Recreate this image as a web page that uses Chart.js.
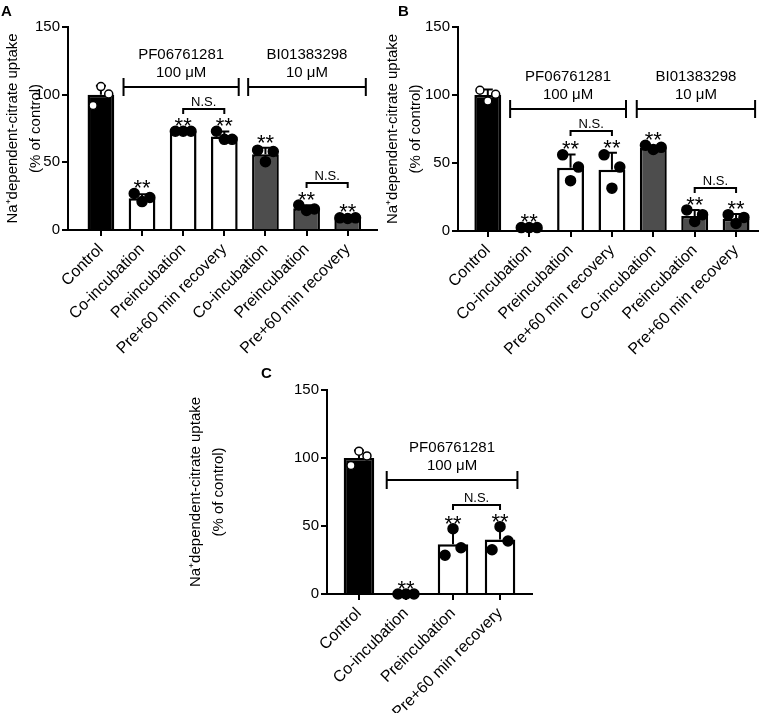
<!DOCTYPE html>
<html>
<head>
<meta charset="utf-8">
<script src="https://cdn.jsdelivr.net/npm/chart.js@4/dist/chart.umd.min.js"></script>
<style>
  body { margin: 0; background: #fff; font-family: "Liberation Sans", Arial, sans-serif; }
  .page { position: relative; width: 767px; height: 713px; overflow: hidden; }
  .panel { position: absolute; }
  .tag { position: absolute; font-weight: bold; font-size: 15px; line-height: 17px; }
</style>
</head>
<body>
<div class="page">
  <canvas class="panel" id="chartA" width="383" height="360" style="left:0;top:0"></canvas>
  <canvas class="panel" id="chartB" width="387" height="360" style="left:380px;top:0"></canvas>
  <canvas class="panel" id="chartC" width="360" height="350" style="left:183px;top:363px"></canvas>
  <div class="tag" style="left:1px;top:2px">A</div>
  <div class="tag" style="left:398px;top:2px">B</div>
  <div class="tag" style="left:261px;top:364px">C</div>
</div>
<script>
Chart.defaults.font.family = '"Liberation Sans", Arial, sans-serif';
Chart.defaults.font.size = 15;
Chart.defaults.color = '#000';

// categories
const labelsAB = ['Control', 'Co-incubation', 'Preincubation', 'Pre+60 min recovery',
                  'Co-incubation', 'Preincubation', 'Pre+60 min recovery'];
const labelsC = ['Control', 'Co-incubation', 'Preincubation', 'Pre+60 min recovery'];
const yTicks = [0, 50, 100, 150];
const yTitle = ['Na\u207Adependent-citrate uptake', '(% of control)'];
const groupPF = ['PF06761281', '100 \u03BCM'];
const groupBI = ['BI01383298', '10 \u03BCM'];

// panel A
const meanA = [100, 23.5, 73, 69, 56, 16, 8.8];
const sdA = [6.5, 3, 0.5, 3.8, 4.8, 2.2, 0.5];
const dotsA = [[92, 106, 100.5], [27, 21, 24], [73, 73, 73], [73, 67, 67],
               [59, 50.5, 58], [18.5, 14.5, 15.5], [9, 8.5, 9]];

// panel B
const meanB = [100, 2.5, 46.5, 45, 61, 11, 9];
const sdB = [4, 0.5, 9.8, 12.5, 1.5, 4.5, 3.5];
const dotsB = [[103.5, 95.5, 100.5], [2.5, 2.5, 2.5], [56, 37, 47], [56, 31.5, 47],
               [63, 60, 61.5], [15.5, 7, 12], [12, 5.5, 10]];

// panel C
const meanC = [100, 0, 36.5, 40];
const sdC = [5.5, 0, 10, 8.6];
const dotsC = [[94.5, 105, 101.5], [0, 0, 0], [28.5, 48, 34], [32.5, 49.5, 39]];

const nsAB = [[2, 3], [5, 6]];
const nsC = [[2, 3]];

const fillAB = ['#000', '#fff', '#fff', '#fff', '#4d4d4d', '#4d4d4d', '#4d4d4d'];
const fillC = ['#000', '#fff', '#fff', '#fff'];

const FONT = '"Liberation Sans", Arial, sans-serif';

// error bars, stars, N.S. and group brackets
const decor = {
  id: 'decor',
  afterDatasetDraw(chart, args, o) {
    if (args.index !== 0) return;
    const { ctx, scales: { x, y } } = chart;
    ctx.save();
    ctx.strokeStyle = '#000';
    ctx.lineWidth = 2;
    o.mean.forEach((m, i) => {
      if (!o.sd[i]) return;
      const px = x.getPixelForValue(i);
      const y0 = y.getPixelForValue(m), y1 = y.getPixelForValue(m + o.sd[i]);
      ctx.beginPath();
      ctx.moveTo(px, y0); ctx.lineTo(px, y1);
      ctx.moveTo(px - 5, y1); ctx.lineTo(px + 5, y1);
      ctx.stroke();
    });
    ctx.restore();
  },
  afterDraw(chart, args, o) {
    const { ctx, scales: { x, y } } = chart;
    ctx.save();
    ctx.fillStyle = '#000';
    ctx.strokeStyle = '#000';
    ctx.lineWidth = 2;
    ctx.textAlign = 'center';

    const starY = o.mean.map((m, i) =>
      y.getPixelForValue(Math.max(m + o.sd[i], ...o.dots[i])) - 10);

    ctx.font = '22px ' + FONT;
    ctx.textBaseline = 'alphabetic';
    o.mean.forEach((m, i) => {
      if (i === 0) return;
      ctx.fillText('**', x.getPixelForValue(i), starY[i] + 12);
    });

    ctx.font = '13px ' + FONT;
    ctx.textBaseline = 'bottom';
    o.ns.forEach(([a, b]) => {
      const ly = Math.round(Math.min(starY[a], starY[b]) - 12);
      const xa = x.getPixelForValue(a), xb = x.getPixelForValue(b);
      ctx.beginPath();
      ctx.moveTo(xa, ly + 5); ctx.lineTo(xa, ly); ctx.lineTo(xb, ly); ctx.lineTo(xb, ly + 5);
      ctx.stroke();
      ctx.fillText('N.S.', (xa + xb) / 2, ly);
    });

    ctx.font = '15px ' + FONT;
    ctx.textBaseline = 'middle';
    o.groups.forEach(g => {
      const gy = Math.round(y.getPixelForValue(g.at));
      const xa = x.getPixelForValue(g.from), xb = x.getPixelForValue(g.to);
      ctx.beginPath();
      ctx.moveTo(xa, gy); ctx.lineTo(xb, gy);
      ctx.moveTo(xa, gy - 9); ctx.lineTo(xa, gy + 9);
      ctx.moveTo(xb, gy - 9); ctx.lineTo(xb, gy + 9);
      ctx.stroke();
      ctx.fillText(g.text[0], (xa + xb) / 2, gy - 32);
      ctx.fillText(g.text[1], (xa + xb) / 2, gy - 14);
    });
    ctx.restore();
  }
};

function makePanel(id, p) {
  const pts = [], ptFill = [], ptRadius = [];
  p.dots.forEach((vals, i) => vals.forEach((v, j) => {
    pts.push({ x: i + p.jitter[j], y: v });
    ptFill.push(i === 0 ? '#fff' : '#000');
    ptRadius.push(i === 0 ? 4 : 5);
  }));

  new Chart(document.getElementById(id), {
    type: 'bar',
    data: {
      datasets: [
        {
          type: 'bar',
          data: p.mean.map((v, i) => ({ x: i, y: v })),
          backgroundColor: p.fill,
          borderColor: '#000',
          borderWidth: 2.5,
          barPercentage: 0.65,
          categoryPercentage: 1,
          order: 2
        },
        {
          type: 'scatter',
          data: pts,
          pointRadius: ptRadius,
          pointBackgroundColor: ptFill,
          pointBorderColor: '#000',
          pointBorderWidth: 1.5,
          clip: false,
          order: 1
        }
      ]
    },
    options: {
      responsive: false,
      animation: false,
      layout: { padding: { left: 0, top: 27, right: p.padRight, bottom: 0 } },
      plugins: {
        legend: { display: false },
        tooltip: { enabled: false },
        decor: { mean: p.mean, sd: p.sd, dots: p.dots, ns: p.ns, groups: p.groups }
      },
      scales: {
        x: {
          type: 'linear',
          min: p.xmin,
          max: p.xmax,
          offset: false,
          afterBuildTicks: s => { s.ticks = p.labels.map((_, i) => ({ value: i })); },
          afterFit: s => { s.height = p.xHeight; },
          ticks: {
            callback: v => p.labels[v],
            minRotation: 45,
            maxRotation: 45,
            autoSkip: false,
            padding: 4,
            font: { size: 16 }
          },
          grid: { drawOnChartArea: false, offset: false, tickLength: 6, lineWidth: 2, color: '#000' },
          border: { color: '#000', width: 2 }
        },
        y: {
          min: 0,
          max: 150,
          afterBuildTicks: s => { s.ticks = yTicks.map(v => ({ value: v })); },
          afterFit: s => { s.width = p.yWidth; },
          ticks: { padding: 2 },
          grid: { drawOnChartArea: false, tickLength: 6, lineWidth: 2, color: '#000' },
          border: { color: '#000', width: 2 },
          title: {
            display: true,
            text: yTitle,
            color: '#000',
            font: { size: 15, lineHeight: 1.5 },
            padding: { top: 2, bottom: 0 }
          }
        }
      }
    },
    plugins: [decor]
  });
}

makePanel('chartA', {
  labels: labelsAB, mean: meanA, sd: sdA, dots: dotsA, fill: fillAB, ns: nsAB,
  jitter: [-0.19, 0, 0.19], xmin: -0.8, xmax: 6.7,
  yWidth: 68, xHeight: 130, padRight: 5,
  groups: [
    { text: groupPF, from: 0.55, to: 3.35, at: 105.7 },
    { text: groupBI, from: 3.58, to: 6.44, at: 105.7 }
  ]
});

makePanel('chartB', {
  labels: labelsAB, mean: meanB, sd: sdB, dots: dotsB, fill: fillAB, ns: nsAB,
  jitter: [-0.19, 0, 0.19], xmin: -0.72, xmax: 6.53,
  yWidth: 78, xHeight: 129, padRight: 9,
  groups: [
    { text: groupPF, from: 0.54, to: 3.34, at: 90 },
    { text: groupBI, from: 3.6, to: 6.46, at: 90 }
  ]
});

makePanel('chartC', {
  labels: labelsC, mean: meanC, sd: sdC, dots: dotsC, fill: fillC, ns: nsC,
  jitter: [-0.17, 0, 0.17], xmin: -0.68, xmax: 3.68,
  yWidth: 144, xHeight: 119, padRight: 11,
  groups: [
    { text: groupPF, from: 0.59, to: 3.37, at: 83.8 }
  ]
});
</script>
</body>
</html>
